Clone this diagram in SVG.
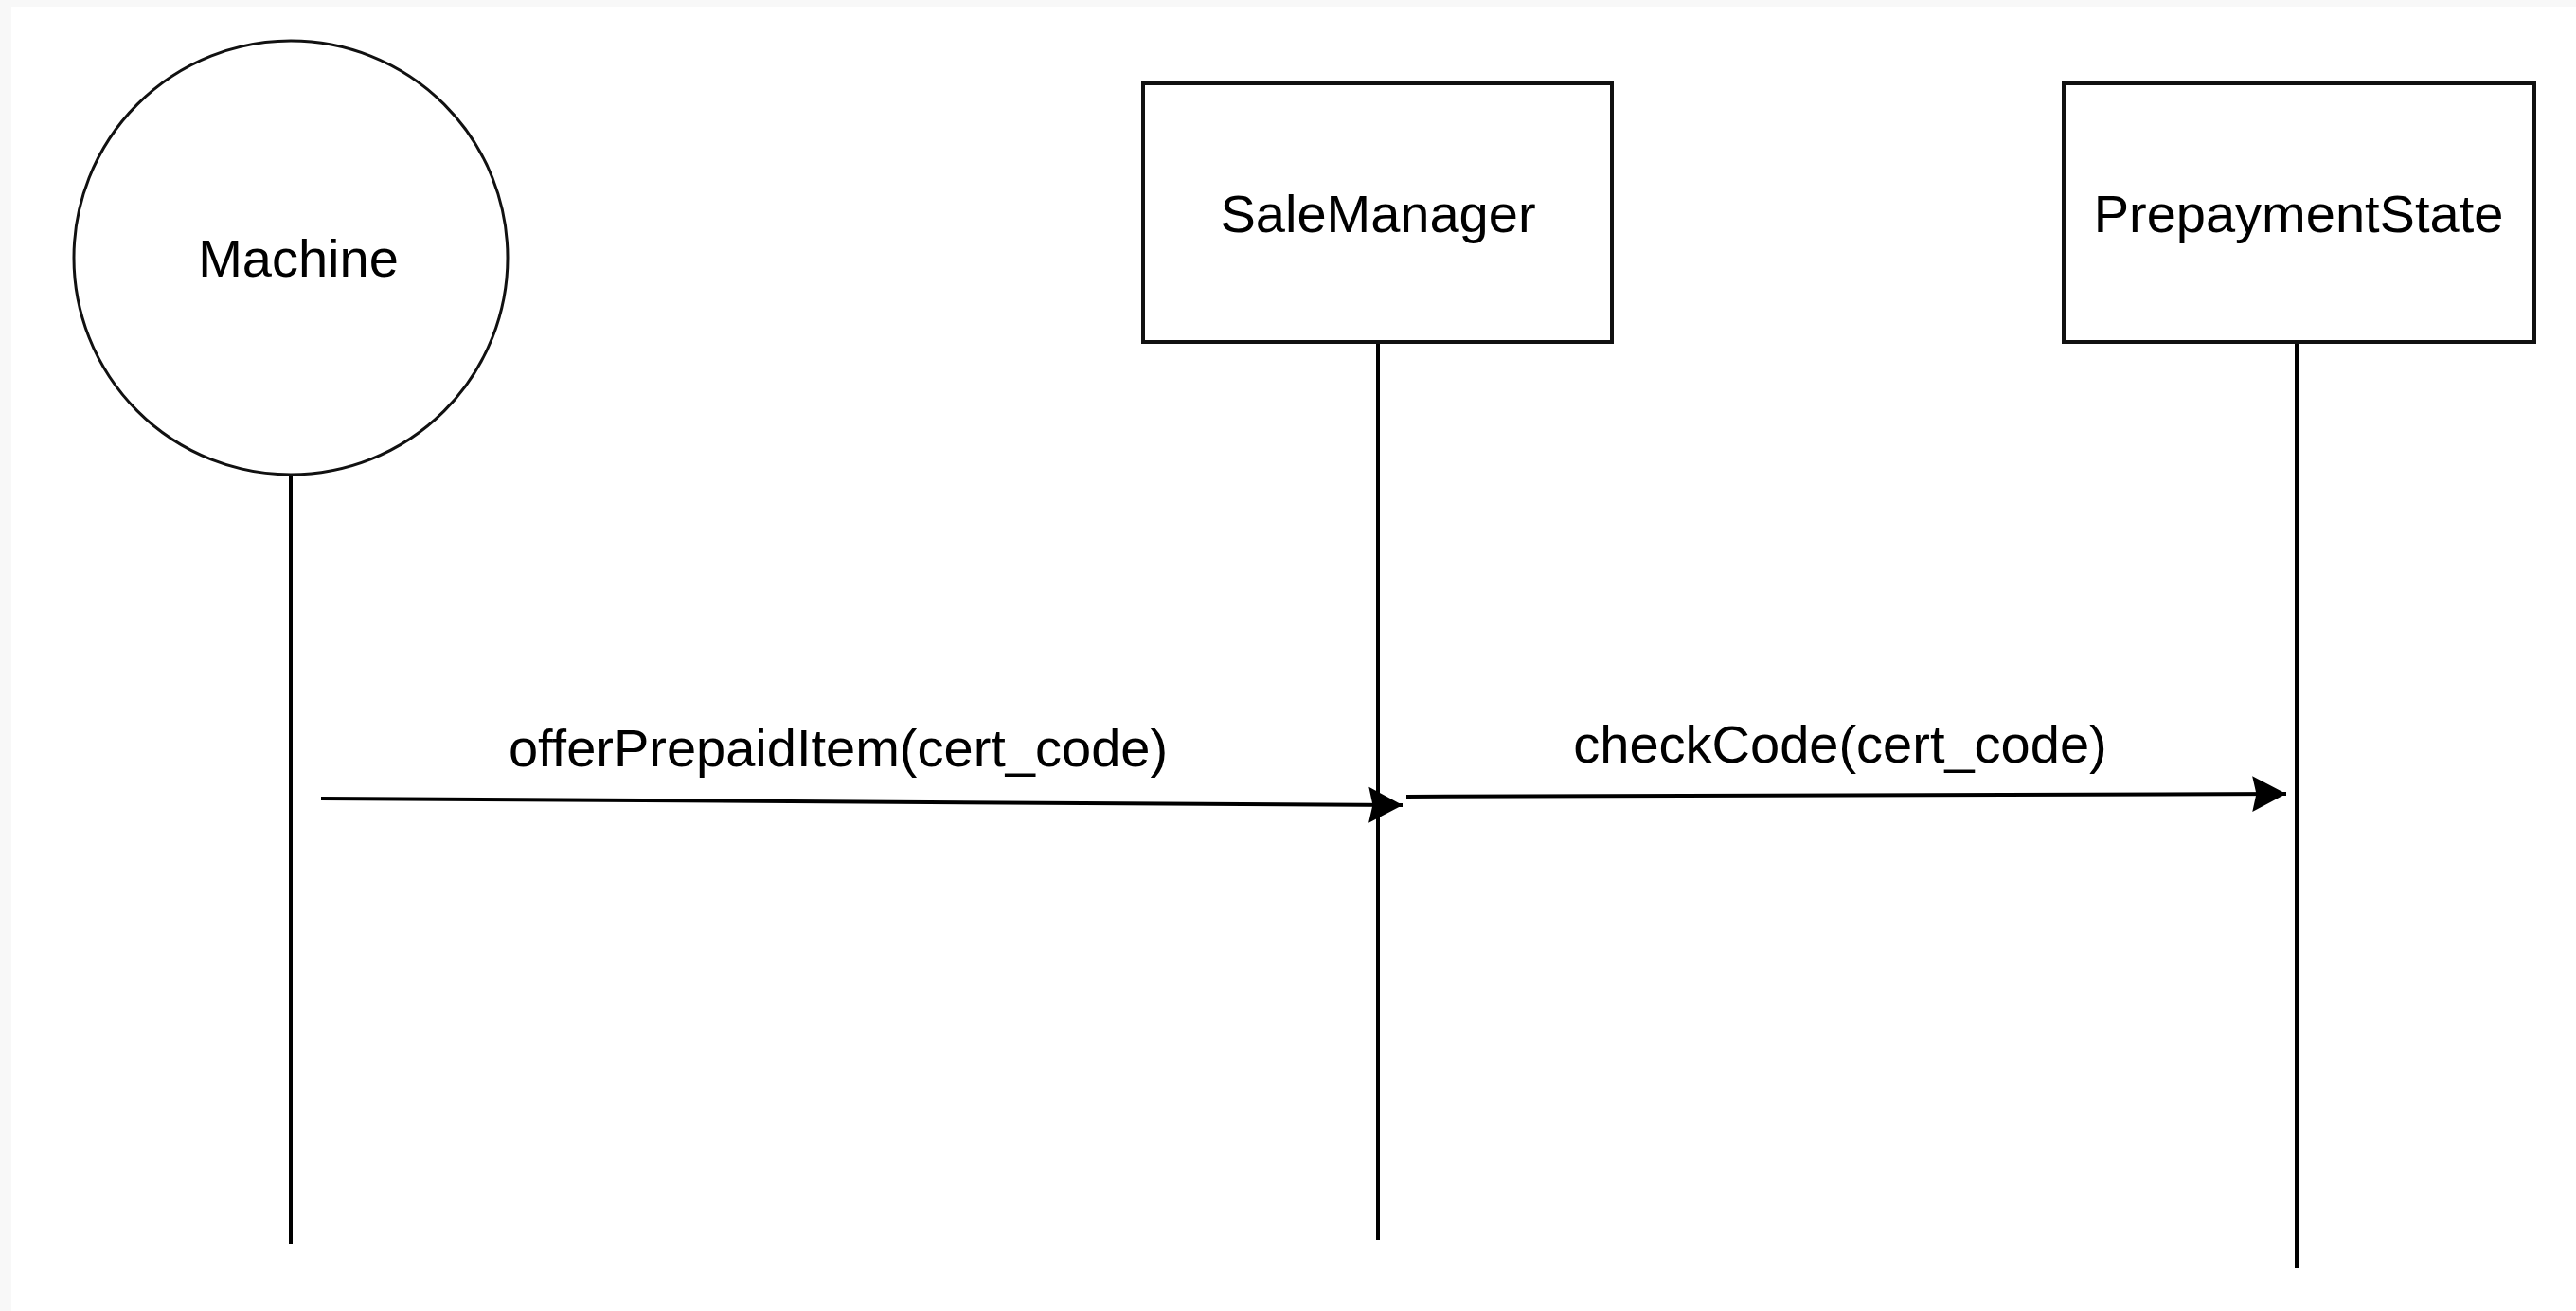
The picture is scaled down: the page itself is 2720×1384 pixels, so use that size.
<svg xmlns="http://www.w3.org/2000/svg" width="2720" height="1384" viewBox="0 0 2720 1384">
<style>
.shape{fill:#ffffff;stroke:#111111;stroke-width:4}
.life{stroke:#000000;stroke-width:4;fill:none}
.msg{stroke:#000000;stroke-width:4;fill:none;marker-end:url(#arrow)}
.lbl{font-family:"Liberation Sans",Arial,sans-serif;font-size:56px;fill:#000000;text-anchor:middle}
</style>
<defs>
<marker id="arrow" markerUnits="userSpaceOnUse" markerWidth="40" markerHeight="44" viewBox="-36 -20 38 40" refX="0" refY="0" orient="auto">
<path d="M0,0 L-34,-18 L-30,0 L-34,18 Z" fill="#000000"/>
</marker>
</defs>
<rect x="0" y="0" width="2720" height="1384" fill="#f8f8f8"/>
<rect x="12" y="7" width="2708" height="1377" fill="#ffffff"/>
<g id="connectors">
<line class="life" x1="307" y1="501" x2="307" y2="1313"/>
<line class="life" x1="1455" y1="362" x2="1455" y2="1309"/>
<line class="life" x1="2425" y1="362" x2="2425" y2="1339"/>
<line class="msg" x1="339" y1="843" x2="1481" y2="850"/>
<line class="msg" x1="1485" y1="841" x2="2414" y2="838"/>
<text class="lbl" x="885" y="809">offerPrepaidItem(cert_code)</text>
<text class="lbl" x="1943" y="805">checkCode(cert_code)</text>
</g>
<g id="machine">
<circle class="shape" cx="307" cy="272" r="229" style="stroke-width:3"/>
<text class="lbl" x="315" y="292">Machine</text>
</g>
<g id="salemanager">
<rect class="shape" x="1207" y="88" width="495" height="273"/>
<text class="lbl" x="1455" y="245">SaleManager</text>
</g>
<g id="prepaymentstate">
<rect class="shape" x="2179" y="88" width="497" height="273"/>
<text class="lbl" x="2427" y="245">PrepaymentState</text>
</g>
</svg>
